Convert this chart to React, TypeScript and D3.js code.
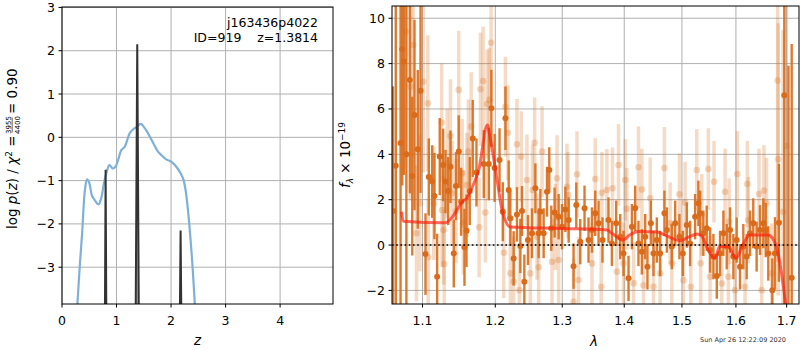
import * as d3 from "d3";
import React from "react";

// ---- left panel: redshift probability ----
const zGrid = [0.28, 0.33, 0.37, 0.42, 0.46, 0.5, 0.55, 0.6, 0.67, 0.72, 0.77, 0.82, 0.87, 0.93, 0.98, 1.03, 1.09, 1.15, 1.2, 1.24, 1.3, 1.36, 1.41, 1.45, 1.5, 1.56, 1.61, 1.68, 1.76, 1.84, 1.91, 2.0, 2.06, 2.12, 2.18, 2.23, 2.27, 2.31, 2.36, 2.4, 2.44];
const logPz = [-3.9, -2.9, -2.2, -1.22, -0.97, -1.05, -1.35, -1.45, -1.55, -1.4, -1.05, -0.8, -0.64, -0.72, -0.68, -0.52, -0.29, -0.22, -0.05, 0.09, 0.18, 0.23, 0.29, 0.31, 0.24, 0.13, 0.02, -0.15, -0.33, -0.43, -0.51, -0.56, -0.63, -0.72, -0.84, -0.99, -1.25, -1.68, -2.4, -3.1, -3.95];

const spikeZ = [0.8, 1.38, 2.175];
const spikePeak = [-0.75, 2.15, -2.15];
const spikeHalf = [0.012, 0.028, 0.012];

const zTicks = [0, 1, 2, 3, 4];
const lpTicks = [-3, -2, -1, 0, 1, 2, 3];

// ---- right panel: spectrum ----
const lamTicks = [1.1, 1.2, 1.3, 1.4, 1.5, 1.6, 1.7];
const fluxTicks = [-2, 0, 2, 4, 6, 8, 10];

const modelLam = [1.0727, 1.075, 1.1306, 1.1405, 1.1536, 1.1596, 1.1680, 1.1765, 1.1886, 1.1932, 1.2026, 1.2098, 1.222, 1.3, 1.3713, 1.38, 1.397, 1.409, 1.4236, 1.456, 1.47, 1.4967, 1.5125, 1.5275, 1.536, 1.548, 1.5605, 1.569, 1.585, 1.6, 1.612, 1.627, 1.6627, 1.6795, 1.6896, 1.697, 1.703];
const modelFlux = [1.47, 1.05, 0.98, 1.26, 1.91, 2.06, 2.6, 3.31, 5.29, 4.63, 2.87, 1.54, 0.8, 0.73, 0.66, 0.51, 0.22, 0.44, 0.6, 0.57, 0.44, 0.19, 0.36, 0.49, 0.39, -0.22, -0.59, -0.07, -0.07, -0.59, -0.05, 0.44, 0.44, -0.07, -1.25, -2.43, -3.5];

// [lambda, flux, error]
const darkPts = [
  [1.0618, 1.5, 5.5], [1.0654, 3.5, 9.0], [1.0715, 4.5, 8.0], [1.0737, 8.63, 6.0], [1.0758, 8.09, 5.0],
  [1.079, 4.0, 7.0], [1.0835, 7.28, 5.0], [1.0866, 3.04, 3.5], [1.0895, 5.73, 4.2], [1.0938, 4.22, 3.5],
  [1.0974, 6.8, 4.5], [1.1039, -0.4, 1.8], [1.1083, 3.0, 1.7], [1.1128, 2.8, 1.6], [1.1158, 2.16, 1.9],
  [1.1194, -1.4, 1.9], [1.1229, 3.9, 1.7], [1.1274, 3.53, 1.6], [1.1306, 2.8, 1.4], [1.1342, 2.38, 1.5],
  [1.1374, 3.45, 1.6], [1.1419, -0.37, 1.5], [1.1449, 2.6, 1.5], [1.1487, 4.12, 1.6], [1.152, 1.91, 1.5],
  [1.1566, -0.1, 1.7], [1.1594, 0.63, 1.6], [1.1639, 2.38, 1.5], [1.1681, 4.7, 1.7], [1.1733, 3.2, 1.5],
  [1.1836, 3.57, 1.5], [1.1907, 3.57, 1.6], [1.1944, 6.03, 1.7], [1.199, 3.4, 1.5], [1.2061, 3.75, 1.4],
  [1.2108, 1.47, 1.3], [1.2146, 5.59, 1.4], [1.2194, 2.43, 1.3], [1.2218, 1.18, 1.2], [1.2266, -0.59, 1.2],
  [1.2315, 1.35, 1.2], [1.2365, -0.04, 1.2], [1.2389, 1.5, 1.1], [1.2424, -1.62, 1.2], [1.2478, 0.22, 1.1],
  [1.2538, 0.52, 1.1], [1.2589, 2.5, 1.1], [1.2639, 0.52, 1.1], [1.2664, 1.47, 1.0], [1.2714, 0.52, 1.1],
  [1.2765, 2.35, 1.1], [1.28, 3.31, 1.0], [1.2831, 0.74, 1.0], [1.2882, 1.43, 1.1], [1.2944, 1.25, 1.0],
  [1.2996, 0.81, 1.0], [1.3048, 1.57, 1.0], [1.31, 1.1, 1.0], [1.3177, -0.93, 1.0], [1.322, 1.76, 1.0],
  [1.3283, 0.15, 1.0], [1.3351, 1.62, 1.0], [1.3415, 0.22, 1.0], [1.347, 0.66, 1.0], [1.3523, 1.4, 1.0],
  [1.3577, 0.96, 1.0], [1.3641, 0.22, 1.0], [1.3739, 1.1, 1.0], [1.3795, 0.07, 1.0], [1.3866, 0.96, 1.0],
  [1.3933, 0.37, 1.0], [1.3988, -0.37, 1.0], [1.4072, -1.47, 1.0], [1.4129, 0.81, 1.0], [1.4185, 1.62, 1.0],
  [1.424, 0.07, 1.0], [1.4298, -0.3, 1.0], [1.4355, 0.37, 1.0], [1.4394, -0.96, 1.0], [1.4453, 0.96, 1.0],
  [1.4498, -0.37, 1.0], [1.4556, 0.22, 1.0], [1.4614, -0.37, 1.0], [1.4689, 1.4, 1.0], [1.4732, 0.66, 1.0],
  [1.482, -0.07, 1.0], [1.4879, 0.96, 1.0], [1.4955, 0.37, 1.0], [1.5015, -0.37, 1.0], [1.5087, 0.88, 1.0],
  [1.5147, 0.07, 1.0], [1.5238, 1.25, 1.0], [1.5298, 1.84, 1.0], [1.5329, 1.4, 1.0], [1.5389, 0.52, 1.0],
  [1.5451, 0.74, 1.0], [1.5513, -0.22, 1.0], [1.5575, -0.51, 1.0], [1.5638, -1.37, 1.0], [1.5699, -0.37, 1.0],
  [1.5762, 0.52, 1.0], [1.5825, -0.07, 1.0], [1.5888, 0.66, 1.0], [1.5951, -0.51, 1.0], [1.6015, 0.22, 1.0],
  [1.6078, -0.96, 1.0], [1.6142, -0.07, 1.0], [1.6207, -0.51, 1.0], [1.6271, 0.52, 1.0], [1.6335, 0.96, 1.1],
  [1.6401, -0.07, 1.1], [1.6467, 0.66, 1.1], [1.6532, 0.96, 1.1], [1.658, 0.66, 1.2], [1.6631, -0.37, 1.2],
  [1.6711, -1.99, 1.4], [1.6765, -0.37, 1.6], [1.6844, 0.98, 2.6], [1.6952, 6.6, 15], [1.7037, -3.0, 10.9],
  [1.7103, -1.44, 10.3],
];

const lightPts = [
  [1.078, 9.41, 6], [1.0844, 6.98, 5], [1.0878, 8.82, 5], [1.0921, 0.52, 3], [1.0965, 1.84, 3],
  [1.1009, 7.2, 4], [1.107, 6.25, 3], [1.1075, -0.54, 2.6], [1.1149, 1.84, 2.5], [1.1255, 5.4, 2.6],
  [1.126, 1.54, 2.5], [1.1281, 0.66, 2.4], [1.129, -0.84, 2.4], [1.133, 3.6, 2.4], [1.1374, 4.81, 2.5],
  [1.1397, 2.28, 2.3], [1.145, 1.5, 2.3], [1.1487, 6.84, 2.6], [1.1534, 3.16, 2.4], [1.155, 1.0, 2.3],
  [1.16, 2.65, 2.3], [1.162, 4.12, 2.3], [1.1659, 5.22, 2.4], [1.177, 0.78, 2.2], [1.1789, 6.87, 2.5],
  [1.1827, 7.23, 2.4], [1.1858, 1.43, 2.2], [1.1883, 6.22, 2.4], [1.1915, 6.4, 2.3], [1.194, 8.92, 2.6],
  [1.2122, -0.34, 2.0], [1.2146, 6.1, 2.2], [1.2181, 4.95, 2.1], [1.2218, -1.25, 2.0], [1.2266, -1.62, 2.0],
  [1.2315, 4.44, 2.0], [1.235, -1.99, 2.0], [1.2378, 3.9, 2.0], [1.2463, 2.87, 2.0], [1.2513, -1.25, 2.0],
  [1.2545, 2.43, 2.0], [1.2578, 4.51, 2.0], [1.2614, 0.37, 1.9], [1.2639, -0.98, 1.9], [1.269, 4.12, 2.0],
  [1.2842, -0.74, 1.9], [1.2893, 0.8, 1.9], [1.2919, 2.94, 1.9], [1.2944, -0.66, 1.9], [1.3074, 2.57, 1.9],
  [1.309, 2.2, 1.9], [1.3177, -2.5, 1.9], [1.3231, 3.12, 1.9], [1.3256, -1.54, 1.9], [1.347, -0.81, 1.8],
  [1.3523, 2.91, 1.8], [1.362, -1.84, 1.8], [1.3631, 2.3, 1.8], [1.3712, 2.43, 1.8], [1.3805, 2.5, 1.8],
  [1.3877, -1.18, 1.8], [1.3905, 3.53, 1.8], [1.3988, -0.81, 1.8], [1.4016, 2.87, 1.8], [1.4044, 1.6, 1.8],
  [1.4157, -1.69, 1.8], [1.424, 3.43, 1.8], [1.4298, 2.45, 1.8], [1.4326, -1.77, 1.8], [1.4441, 2.06, 1.8],
  [1.4498, -1.84, 1.8], [1.4614, -1.25, 1.8], [1.4689, 3.4, 1.8], [1.479, 0.96, 1.8], [1.482, -0.81, 1.8],
  [1.4955, 2.24, 1.8], [1.5027, -1.55, 1.8], [1.5057, 1.87, 1.8], [1.516, -1.84, 1.8], [1.5268, 3.31, 1.8],
  [1.534, -0.8, 1.8], [1.536, 1.33, 1.8], [1.5481, 3.35, 1.8], [1.5513, -1.4, 1.8], [1.5586, 2.79, 1.8],
  [1.5731, -1.7, 1.9], [1.5794, 2.35, 1.9], [1.5856, -1.4, 1.9], [1.587, 1.04, 1.9], [1.5982, -1.99, 1.9],
  [1.6027, 3.13, 1.9], [1.6175, -1.84, 1.9], [1.6219, 2.69, 1.9], [1.6239, 1.1, 1.9], [1.6447, 2.25, 2.0],
  [1.65, -1.99, 2.0], [1.6545, 2.4, 2.0], [1.6597, 1.84, 2.0], [1.67, -1.25, 2.2], [1.6818, 7.25, 8],
  [1.683, 3.78, 6], [1.6927, 1.47, 8], [1.6995, 4.37, 10],
];

const FONT = "DejaVu Sans";
const ORANGE = "#d96b1a";

export default function App() {
  // left axes
  const L = { x0: 62, x1: 333, y0: 7, y1: 304 };
  const zx = d3.scaleLinear().domain([0, 4.97]).range([L.x0, L.x1]);
  const zy = d3.scaleLinear().domain([-3.85, 3.01]).range([L.y1, L.y0]);

  // right axes
  const R = { x0: 392, x1: 799, y0: 6, y1: 304 };
  const lx = d3.scaleLog().domain([1.0606, 1.7253]).range([R.x0, R.x1]);
  const ly = d3.scaleLinear().domain([-2.6, 10.54]).range([R.y1, R.y0]);

  const pzLine = d3.line<number>()
    .x((_, i) => zx(zGrid[i]))
    .y((d) => zy(d))
    .curve(d3.curveCatmullRom);

  const modelLine = d3.line<number>()
    .x((_, i) => lx(modelLam[i]))
    .y((d) => ly(d))
    .curve(d3.curveMonotoneX);

  const fmtInt = d3.format("d");
  const fmt1 = d3.format(".1f");
  const grid = "#b0b0b0";

  return (
    <svg width={800} height={350} style={{ position: "absolute", left: 0, top: 0, background: "#fff" }}
      fontFamily={FONT}>
      <defs>
        <clipPath id="clipL"><rect x={L.x0} y={L.y0} width={L.x1 - L.x0} height={L.y1 - L.y0} /></clipPath>
        <clipPath id="clipR"><rect x={R.x0} y={R.y0} width={R.x1 - R.x0} height={R.y1 - R.y0} /></clipPath>
      </defs>

      {/* ---------- left panel ---------- */}
      {zTicks.map((t) => (
        <line key={"gzx" + t} x1={zx(t)} x2={zx(t)} y1={L.y0} y2={L.y1} stroke={grid} strokeWidth={1} />
      ))}
      {lpTicks.map((t) => (
        <line key={"gzy" + t} x1={L.x0} x2={L.x1} y1={zy(t)} y2={zy(t)} stroke={grid} strokeWidth={1} />
      ))}
      <g clipPath="url(#clipL)">
        <path d={pzLine(logPz) || ""} fill="none" stroke="#7eb0d8" strokeWidth={2.2} />
        {spikeZ.map((z, i) => (
          <path key={"sp" + i}
            d={`M${zx(z - spikeHalf[i])},${zy(-3.9)}L${zx(z)},${zy(spikePeak[i])}L${zx(z + spikeHalf[i])},${zy(-3.9)}`}
            fill="#777" fillOpacity={0.6} stroke="#333" strokeWidth={2} strokeLinejoin="miter" />
        ))}
      </g>
      <rect x={L.x0} y={L.y0} width={L.x1 - L.x0} height={L.y1 - L.y0} fill="none" stroke="#000" strokeWidth={1} />
      {zTicks.map((t) => (
        <g key={"tzx" + t}>
          <line x1={zx(t)} x2={zx(t)} y1={L.y1} y2={L.y1 + 3.5} stroke="#000" />
          <text x={zx(t)} y={325} fontSize={12.5} textAnchor="middle">{fmtInt(t)}</text>
        </g>
      ))}
      {lpTicks.map((t) => (
        <g key={"tzy" + t}>
          <line x1={L.x0 - 3.5} x2={L.x0} y1={zy(t)} y2={zy(t)} stroke="#000" />
          <text x={L.x0 - 7} y={zy(t) + 4.5} fontSize={12.5} textAnchor="end">{fmtInt(t)}</text>
        </g>
      ))}
      <text x={(L.x0 + L.x1) / 2} y={345} fontSize={13.5} fontStyle="italic" textAnchor="middle">z</text>
      <text x={318} y={27} fontSize={12.5} textAnchor="end">j163436p4022</text>
      <text x={318} y={42} fontSize={12.5} textAnchor="end" style={{ whiteSpace: "pre" }}>ID=919    z=1.3814</text>

      <g transform="translate(17,155) rotate(-90)" fontSize={13.5}>
        <text x={19.5} y={0} textAnchor="end">
          log <tspan fontStyle="italic">p</tspan>(<tspan fontStyle="italic">z</tspan>) / <tspan fontStyle="italic">χ</tspan>
          <tspan fontSize={9} dy={-5}>2</tspan><tspan dy={5}> =</tspan>
        </text>
        <text x={30} y={-6.5} fontSize={7} textAnchor="middle">3955</text>
        <line x1={22.5} x2={37.5} y1={-4.8} y2={-4.8} stroke="#000" strokeWidth={0.6} />
        <text x={30} y={2.5} fontSize={7} textAnchor="middle">4400</text>
        <text x={41} y={0} textAnchor="start">= 0.90</text>
      </g>

      {/* ---------- right panel ---------- */}
      {lamTicks.map((t) => (
        <line key={"glx" + t} x1={lx(t)} x2={lx(t)} y1={R.y0} y2={R.y1} stroke={grid} strokeWidth={1} />
      ))}
      {fluxTicks.map((t) => (
        <line key={"gly" + t} x1={R.x0} x2={R.x1} y1={ly(t)} y2={ly(t)} stroke={grid} strokeWidth={1} />
      ))}
      <g clipPath="url(#clipR)">
        {lightPts.map((p, i) => (
          <g key={"lp" + i}>
            <line x1={lx(p[0])} x2={lx(p[0])} y1={ly(p[1] - p[2])} y2={ly(p[1] + p[2])}
              stroke={ORANGE} strokeOpacity={0.25} strokeWidth={3.5} />
            <circle cx={lx(p[0])} cy={ly(p[1])} r={3.3} fill={ORANGE} fillOpacity={0.28} />
          </g>
        ))}
        {darkPts.map((p, i) => (
          <g key={"dp" + i}>
            <line x1={lx(p[0])} x2={lx(p[0])} y1={ly(p[1] - p[2])} y2={ly(p[1] + p[2])}
              stroke={ORANGE} strokeOpacity={0.9} strokeWidth={2.4} />
            <circle cx={lx(p[0])} cy={ly(p[1])} r={3} fill={ORANGE} />
          </g>
        ))}
        <path d={modelLine(modelFlux) || ""} fill="none" stroke="#ff1a0a" strokeOpacity={0.65} strokeWidth={3} />
        <line x1={R.x0} x2={R.x1} y1={ly(0)} y2={ly(0)} stroke="#000" strokeWidth={1.6} strokeDasharray="1.6,2.6" />
      </g>
      <rect x={R.x0} y={R.y0} width={R.x1 - R.x0} height={R.y1 - R.y0} fill="none" stroke="#000" strokeWidth={1} />
      {lamTicks.map((t) => (
        <g key={"tlx" + t}>
          <line x1={lx(t)} x2={lx(t)} y1={R.y1} y2={R.y1 + 3.5} stroke="#000" />
          <text x={lx(t)} y={325} fontSize={12.5} textAnchor="middle">{fmt1(t)}</text>
        </g>
      ))}
      {fluxTicks.map((t) => (
        <g key={"tly" + t}>
          <line x1={R.x0 - 3.5} x2={R.x0} y1={ly(t)} y2={ly(t)} stroke="#000" />
          <text x={R.x0 - 7} y={ly(t) + 4.5} fontSize={12.5} textAnchor="end">{fmtInt(t)}</text>
        </g>
      ))}
      <text x={594} y={346} fontSize={13.5} fontStyle="italic" textAnchor="middle">λ</text>
      <g transform="translate(350,155) rotate(-90)" fontSize={13.5}>
        <text x={0} y={0} textAnchor="middle">
          <tspan fontStyle="italic">f</tspan>
          <tspan fontSize={9} fontStyle="italic" dy={3}>λ</tspan>
          <tspan dy={-3}> × 10</tspan>
          <tspan fontSize={9} dy={-5.5}>−19</tspan>
        </text>
      </g>
      <text x={743} y={342} fontSize={6.5} fill="#333" textAnchor="middle">Sun Apr 26 12:22:09 2020</text>
    </svg>
  );
}
